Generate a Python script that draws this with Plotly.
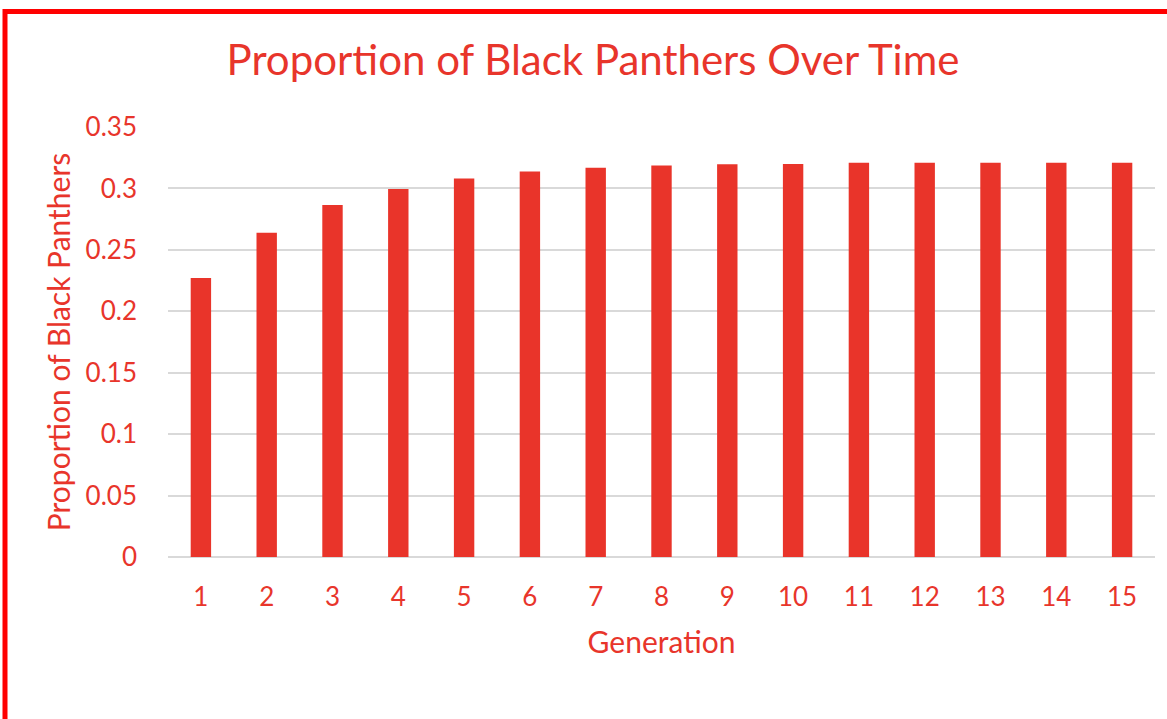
import plotly.graph_objects as go

generations = [str(i) for i in range(1, 16)]
proportions = [0.227, 0.264, 0.2865, 0.2995, 0.308, 0.3138, 0.3168, 0.3186,
               0.3197, 0.3198, 0.3208, 0.3209, 0.3209, 0.321, 0.321]
y_ticks = [0, 0.05, 0.1, 0.15, 0.2, 0.25, 0.3, 0.35]
y_tick_labels = ["0", "0.05", "0.1", "0.15", "0.2", "0.25", "0.3", "0.35"]

TEXT = "#E8352B"
BAR = "#E9342A"
FONT = "Lato"

W, H = 1167, 719
L, R, T, B = 168, 12, 127, 162
pw, ph = W - L - R, H - T - B

def px(x):
    return (x - L) / pw

def py(y):
    return (H - B - y) / ph

fig = go.Figure(go.Bar(x=generations, y=proportions,
                       marker=dict(color=BAR, line=dict(width=0))))

fig.update_layout(
    width=W, height=H,
    margin=dict(l=L, r=R, t=T, b=B, pad=0),
    paper_bgcolor="white", plot_bgcolor="white",
    bargap=0.69,
    showlegend=False,
    font=dict(family=FONT, color=TEXT),
    title=dict(text="Proportion of Black Panthers Over Time",
               x=(593) / W, xanchor="center", y=1 - 60 / H, yanchor="middle",
               font=dict(size=42, color=TEXT, family=FONT)),
    xaxis=dict(title=dict(text="Generation", font=dict(size=30, color=TEXT), standoff=20),
               tickfont=dict(size=26, color=TEXT), showgrid=False,
               ticks="", ticklabelstandoff=22, showline=False, zeroline=False),
    yaxis=dict(title=dict(text="Proportion of Black Panthers", font=dict(size=30, color=TEXT), standoff=6),
               range=[0, 0.35], tickvals=y_ticks, ticktext=y_tick_labels,
               tickfont=dict(size=26, color=TEXT), showgrid=True,
               gridcolor="#D9D9D9", gridwidth=2, zeroline=True,
               zerolinecolor="#D9D9D9", zerolinewidth=2, ticklabelstandoff=30,
               ticks=""),
    shapes=[
        dict(type="line", xref="paper", yref="paper",
             x0=px(5), x1=px(5), y0=py(9), y1=py(H + 5),
             line=dict(color="#FF0000", width=5)),
        dict(type="line", xref="paper", yref="paper",
             x0=px(3), x1=px(W + 5), y0=py(11.5), y1=py(11.5),
             line=dict(color="#FF0000", width=5)),
    ],
)

fig.write_html("out.html")
